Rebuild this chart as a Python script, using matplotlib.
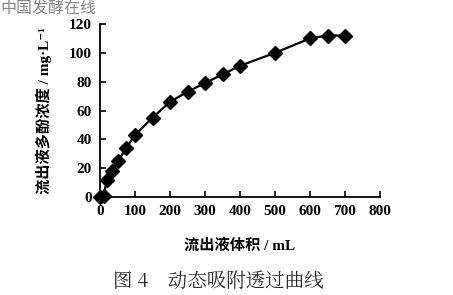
import matplotlib
matplotlib.use('Agg')
import matplotlib.pyplot as plt
import numpy as np

plt.rcParams['font.family'] = ['Liberation Serif', 'Noto Sans CJK SC', 'DejaVu Sans']

# effluent volume (mL) and polyphenol concentration (mg/L)
volume = [0, 10, 20, 33, 52, 75, 100, 150, 200, 250, 300, 350, 400, 500, 600, 650, 700]
conc = [0, 1, 12, 18, 25, 34, 43, 55, 66, 73, 79, 85, 91, 100, 110, 112, 112]

x_ticks = [0, 100, 200, 300, 400, 500, 600, 700, 800]
y_ticks = [0, 20, 40, 60, 80, 100, 120]

fig = plt.figure(figsize=(4.53, 2.95), dpi=100)
ax = fig.add_axes([100/453, 1 - 197/295, 280/453, 173/295])

ax.plot(volume, conc, color='black', lw=1.6, marker='D', ms=7.5,
        mfc='black', mec='black', clip_on=False, zorder=3)

ax.set_xlim(0, 800)
ax.set_ylim(0, 120)
ax.set_xticks(x_ticks)
ax.set_yticks(y_ticks)
ax.spines['top'].set_visible(False)
ax.spines['right'].set_visible(False)
ax.spines['left'].set_linewidth(1.3)
ax.spines['bottom'].set_linewidth(1.3)
ax.tick_params(direction='in', length=4, width=1.2, labelsize=11, pad=6)
for lab in ax.get_xticklabels() + ax.get_yticklabels():
    lab.set_fontweight('bold')

ax.set_xlabel('流出液体积 / mL', fontsize=11, fontweight='bold', labelpad=14)
ax.set_ylabel('流出液多酚浓度 / mg·L⁻¹', fontsize=11, fontweight='bold', labelpad=12)

fig.text(0.482, 1 - 282/295, '图 4　动态吸附透过曲线', ha='center', va='center',
         fontsize=14, color='#2a2a2a', family=['Noto Serif CJK SC', 'Noto Sans CJK SC'])
fig.text(0.0, 1.0, '中国发酵在线', ha='left', va='top', fontsize=11.5,
         color='#888888', family=['Noto Sans CJK SC'])

fig.savefig('out.png', dpi=100)
